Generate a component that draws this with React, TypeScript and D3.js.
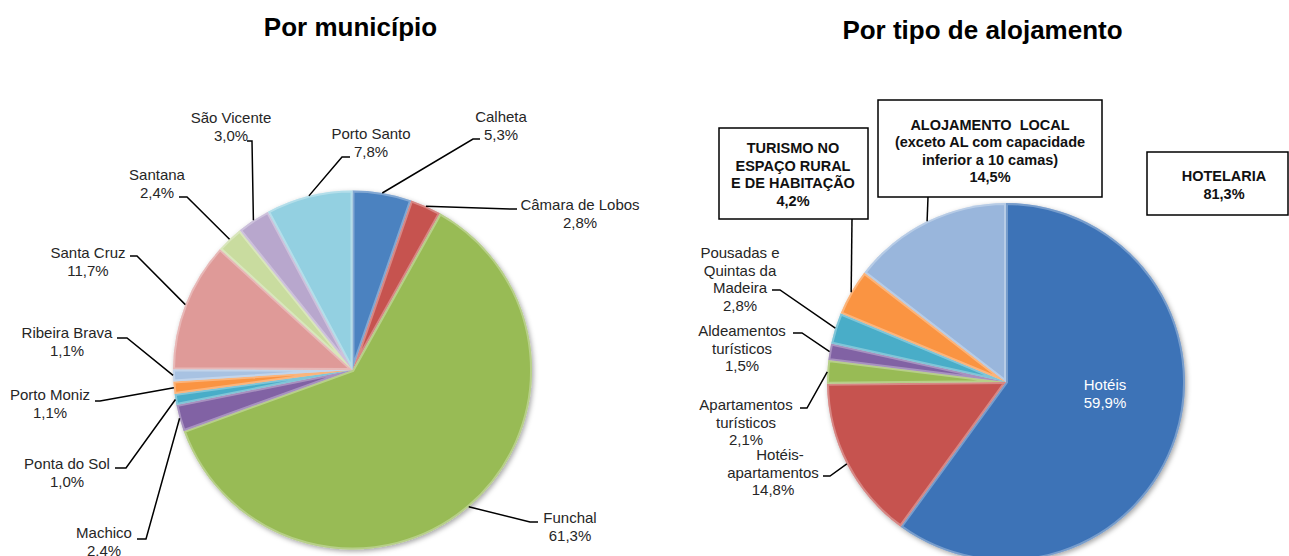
import React from "react";
import * as d3 from "d3";

// ---------- DATA ----------
const municipios = [
  "Calheta", "Câmara de Lobos", "Funchal", "Machico", "Ponta do Sol", "Porto Moniz",
  "Ribeira Brava", "Santa Cruz", "Santana", "São Vicente", "Porto Santo",
];
const municipioValues = [5.3, 2.8, 61.3, 2.4, 1.0, 1.1, 1.1, 11.7, 2.4, 3.0, 7.8];

const tipos = [
  "Hotéis", "Hotéis-apartamentos", "Apartamentos turísticos", "Aldeamentos turísticos",
  "Pousadas e Quintas da Madeira", "Turismo no Espaço Rural e de Habitação", "Alojamento Local",
];
const tipoValues = [59.9, 14.8, 2.1, 1.5, 2.8, 4.2, 14.5];

const grupoLabels = ["TURISMO NO\nESPAÇO RURAL\nE DE HABITAÇÃO", "ALOJAMENTO  LOCAL\n(exceto AL com capacidade\ninferior a 10 camas)", "HOTELARIA"];
const grupoValues = [4.2, 14.5, 81.3];

const titles = ["Por município", "Por tipo de alojamento"];

// ---------- STYLES / LAYOUT ----------
const municipioColors = ["#4a7ebb", "#c0504d", "#94b653", "#7d5f9f", "#46a8c2", "#f39040", "#a3bddc", "#d99694", "#c3d69b", "#b3a2c7", "#8fcadb"];
const tipoColors = ["#3c70b2", "#c0504d", "#94b653", "#7d5f9f", "#46a8c2", "#f39040", "#95b1d6"];

const LEFT = { cx: 352.5, cy: 370, r: 179.5 };
const RIGHT = { cx: 1006, cy: 382, r: 179 };

const municipioLines = municipios.map((m) => [m]);
const tipoLines = [["Hotéis"], ["Hotéis-", "apartamentos"], ["Apartamentos", "turísticos"], ["Aldeamentos", "turísticos"], ["Pousadas e", "Quintas da", "Madeira"], [], []];

type LL = { x: number; y: number; elbow?: number[]; end?: number[]; dx?: number[]; white?: boolean } | null;
const leftLayout: LL[] = [
  { x: 501, y: 117, elbow: [473, 139], end: [480, 139] },
  { x: 580, y: 205, elbow: [510, 209], end: [517, 209] },
  { x: 570, y: 518, elbow: [530, 522], end: [538, 522] },
  { x: 104, y: 533, elbow: [146, 539], end: [137, 539] },
  { x: 67, y: 464, elbow: [126, 468], end: [115, 468] },
  { x: 50, y: 395, elbow: [100, 401], end: [95, 401] },
  { x: 67, y: 333, elbow: [127, 338], end: [117, 338] },
  { x: 88, y: 253, elbow: [137, 256], end: [130, 256] },
  { x: 157, y: 175, elbow: [187, 197], end: [179, 197] },
  { x: 231, y: 118, elbow: [252, 141], end: [247, 141] },
  { x: 371, y: 134, elbow: [342, 157], end: [350, 157] },
];
const rightLayout: LL[] = [
  { x: 1105, y: 385, white: true },
  { x: 773, y: 455, elbow: [830, 476], end: [823, 476], dx: [7, 0, 0] },
  { x: 746, y: 405, elbow: [807, 408], end: [800, 408] },
  { x: 742, y: 331, elbow: [802, 333], end: [793, 333] },
  { x: 740, y: 253, elbow: [780, 290], end: [772, 290] },
  null,
  null,
];
const boxLayout = [
  { rect: [719, 128, 868, 219], x: 793, y: 148, gap: 17.5, from: [852, 219], slice: 5 },
  { rect: [878, 100, 1102, 197], x: 990, y: 125, gap: 17.3, from: [928, 197], slice: 6 },
  { rect: [1147, 152, 1288, 215], x: 1224, y: 176, gap: 18, from: null as number[] | null, slice: -1 },
];

const FONT = "'Liberation Sans', Arial, Helvetica, sans-serif";
const fmt = (v: number) => d3.format(".1f")(v).replace(".", ",") + "%";
const LINE = 17.5;

function pointAt(c: { cx: number; cy: number; r: number }, a: number, rr = c.r) {
  return [c.cx + rr * Math.sin(a), c.cy - rr * Math.cos(a)];
}

function Pie({ id, values, colors, c, lines, layout }: any) {
  const arcs = d3.pie<number>().sort(null).value((d) => d)(values);
  const arc = d3.arc<d3.PieArcDatum<number>>().innerRadius(0).outerRadius(c.r);
  return (
    <g>
      <defs>
        {colors.map((col: string, i: number) => {
          const base = d3.color(col)!;
          return (
            <linearGradient key={i} id={`${id}-g${i}`} gradientUnits="userSpaceOnUse" x1={0} y1={c.cy - c.r} x2={0} y2={c.cy + c.r}>
              <stop offset="0" stopColor={base.brighter(0.08).formatHex()} />
              <stop offset="0.5" stopColor={base.formatHex()} />
              <stop offset="1" stopColor={base.darker(0.55).formatHex()} />
            </linearGradient>
          );
        })}
        {arcs.map((a, i) => (
          <clipPath key={i} id={`${id}-c${i}`}>
            <path d={arc(a)!} transform={`translate(${c.cx},${c.cy})`} />
          </clipPath>
        ))}
      </defs>
      <g filter="url(#shadow)">
        {arcs.map((a, i) => (
          <path key={i} d={arc(a)!} transform={`translate(${c.cx},${c.cy})`} fill={`url(#${id}-g${i})`} />
        ))}
      </g>
      {arcs.map((a, i) => (
        <g key={i} clipPath={`url(#${id}-c${i})`}>
          <path d={arc(a)!} transform={`translate(${c.cx},${c.cy})`} fill="none" stroke="#ffffff" strokeOpacity={0.3} strokeWidth={4} />
        </g>
      ))}
      {arcs.map((a, i) => {
        const L = layout[i];
        if (!L) return null;
        const mid = (a.startAngle + a.endAngle) / 2;
        const p = pointAt(c, mid);
        const textLines = [...lines[i], fmt(values[i])];
        return (
          <g key={i}>
            {L.elbow && (
              <path d={`M${p[0]},${p[1]}L${L.elbow[0]},${L.elbow[1]}L${L.end[0]},${L.end[1]}`} fill="none" stroke="#000" strokeWidth={1.5} />
            )}
            <text fontFamily={FONT} fontSize={15} fill={L.white ? "#ffffff" : "#262626"} textAnchor="middle">
              {textLines.map((t: string, k: number) => (
                <tspan key={k} x={L.x + (L.dx ? L.dx[k] || 0 : 0)} y={L.y + 5 + k * LINE}>{t}</tspan>
              ))}
            </text>
          </g>
        );
      })}
    </g>
  );
}

export default function App() {
  const rightArcs = d3.pie<number>().sort(null).value((d) => d)(tipoValues);
  return (
    <svg width={1289} height={556} style={{ position: "absolute", left: 0, top: 0, display: "block", background: "#fff" }}>
      <defs>
        <filter id="shadow" x="-20%" y="-20%" width="140%" height="140%">
          <feDropShadow dx={1.5} dy={2} stdDeviation={2.5} floodColor="#000" floodOpacity={0.35} />
        </filter>
      </defs>
      <rect x={0} y={0} width={1289} height={556} fill="#fff" />
      <text x={350.5} y={36} textAnchor="middle" fontFamily={FONT} fontWeight="bold" fontSize={26} fill="#000">{titles[0]}</text>
      <text x={982.5} y={38.5} textAnchor="middle" fontFamily={FONT} fontWeight="bold" fontSize={26} fill="#000">{titles[1]}</text>

      <Pie id="lp" values={municipioValues} colors={municipioColors} c={LEFT} lines={municipioLines} layout={leftLayout} />
      <Pie id="rp" values={tipoValues} colors={tipoColors} c={RIGHT} lines={tipoLines} layout={rightLayout} />

      {boxLayout.map((b, i) => {
        const [x0, y0, x1, y1] = b.rect;
        let leader = null;
        if (b.from && b.slice >= 0) {
          const a = rightArcs[b.slice];
          const p = pointAt(RIGHT, (a.startAngle + a.endAngle) / 2);
          leader = <path d={`M${b.from[0]},${b.from[1]}L${p[0]},${p[1]}`} stroke="#000" strokeWidth={1.5} fill="none" />;
        }
        const textLines = [...grupoLabels[i].split("\n"), fmt(grupoValues[i])];
        return (
          <g key={i}>
            {leader}
            <rect x={x0} y={y0} width={x1 - x0} height={y1 - y0} fill="#fff" stroke="#000" strokeWidth={1.5} />
            <text fontFamily={FONT} fontWeight="bold" fontSize={14.5} fill="#111" textAnchor="middle" style={{ whiteSpace: "pre" }}>
              {textLines.map((t, k) => (
                <tspan key={k} x={b.x} y={b.y + 5 + k * b.gap}>{t}</tspan>
              ))}
            </text>
          </g>
        );
      })}
    </svg>
  );
}
